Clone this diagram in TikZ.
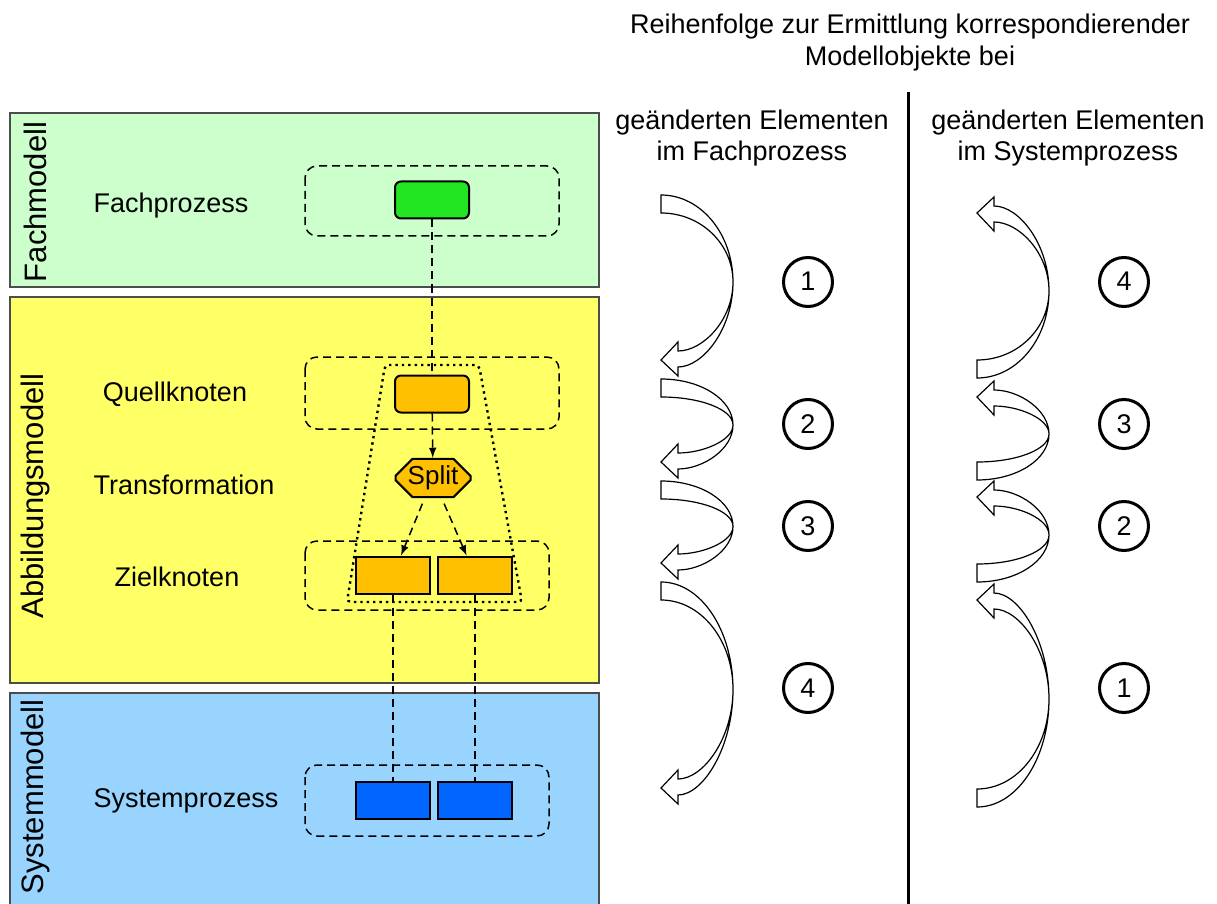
\documentclass[tikz,border=0pt]{standalone}
\usepackage{fontspec}
\setmainfont{Liberation Sans}
\usetikzlibrary{arrows,shapes.misc,positioning}

\definecolor{fachgruen}{RGB}{204,255,204}
\definecolor{abbgelb}{RGB}{255,255,102}
\definecolor{sysblau}{RGB}{153,212,255}
\definecolor{knotengruen}{RGB}{34,230,34}
\definecolor{knotenorange}{RGB}{255,192,0}
\definecolor{knotenblau}{RGB}{0,102,255}

\tikzset{
    ebene/.style={draw=black!70,line width=0.6pt},
    ebenentext/.style={rotate=90,font=\fontsize{15.5}{18}\selectfont},
    text14/.style={font=\fontsize{13.5}{15.5}\selectfont,align=center},
    gruppe/.style={draw,line width=0.75pt,dash pattern=on 4pt off 2.5pt,rounded corners=6pt},
    element/.style={draw,line width=1pt,minimum width=37pt,minimum height=18.5pt,inner sep=0pt},
    verbindung/.style={line width=0.75pt,dash pattern=on 4pt off 2.5pt},
    nummer/.style={circle,draw,line width=1.5pt,minimum size=24.5pt,inner sep=0pt,font=\fontsize{13.5}{15.5}\selectfont},
}

% Curved block arrow: x of tail/tip, tail y, tip y, direction (1 down, -1 up).
\newcommand{\bogenpfeil}[4]{%
    \pgfmathsetmacro{\ym}{((#2)+(#4)*9+(#3))/2}%
    \draw[line width=0.6pt,fill=white]
        (#1,#2) .. controls ({#1+40},#2) and ({#1+72},{\ym-0.55*(\ym-(#2))}) .. ({#1+72},\ym)
        .. controls ({#1+72},{\ym+0.55*((#3)+(#4)*7-\ym)}) and ({#1+42},{(#3)+(#4)*7}) .. ({#1+17},{(#3)+(#4)*7})
        -- ({#1+17},{(#3)+(#4)*16}) -- (#1,#3) -- ({#1+17},{(#3)-(#4)*18}) -- ({#1+17},{(#3)-(#4)*9})
        .. controls ({#1+42},{(#3)-(#4)*9}) and ({#1+72},{\ym+0.55*((#3)-(#4)*9-\ym)}) .. ({#1+72},\ym)
        .. controls ({#1+72},{\ym-0.55*(\ym-(#2)-(#4)*18)}) and ({#1+40},{(#2)+(#4)*18}) .. (#1,{(#2)+(#4)*18})
        -- cycle;
}

\begin{document}
\begin{tikzpicture}[x=0.5pt,y=-0.5pt]

    \useasboundingbox (0,0) rectangle (1217,904);
    \clip (0,0) rectangle (1217,904);

    % Model layers.
    \draw[ebene,fill=fachgruen] (10,113) rectangle (599,287);
    \draw[ebene,fill=abbgelb] (10,297) rectangle (599,683);
    \draw[ebene,fill=sysblau] (10,693) rectangle (599,920);

    \node[ebenentext] (tFach) at (35,202) {Fachmodell};
    \node[ebenentext] (tAbb) at (35,496) {Abbildungsmodell};
    \node[ebenentext] (tSys) at (35,797) {Systemmodell};

    % Row labels.
    \node[text14] (lFach) at (171,206) {Fachprozess};
    \node[text14] (lQuell) at (175,394) {Quellknoten};
    \node[text14] (lTrans) at (184,485) {Transformation};
    \node[text14] (lZiel) at (177,577) {Zielknoten};
    \node[text14] (lSys) at (186,801) {Systemprozess};

    % Groups.
    \foreach \ya/\yb/\xb in {166/236/559,357/429/559,541/610/549,765/836/549}
        \draw[gruppe] (305,\ya) rectangle (\xb,\yb);

    % Mapping frame.
    \draw[dotted,line width=1.2pt,rounded corners=2pt] (385,365) -- (479,365) -- (522,602) -- (347,602) -- cycle;

    % Elements.
    \node[element,fill=knotengruen,rounded corners=3pt] (fach) at (432,200) {};
    \node[element,fill=knotenorange,rounded corners=3pt] (quell) at (432,394) {};
    \node[element,fill=knotenorange,chamfered rectangle,chamfered rectangle xsep=5pt,
          minimum width=37.5pt,minimum height=19pt,font=\fontsize{13}{14}\selectfont] (split) at (433,478) {Split};
    \node[element,fill=knotenorange] (ziel1) at (393,575) {};
    \node[element,fill=knotenorange,right=3pt of ziel1] (ziel2) {};
    \node[element,fill=knotenblau] (sys1) at (393,800) {};
    \node[element,fill=knotenblau,right=3pt of sys1] (sys2) {};

    % Correspondences.
    \draw[verbindung] (fach) -- (quell);
    \draw[verbindung,-latex] (quell) -- (split);
    \draw[verbindung,-latex,shorten <=3pt] (split) -- (ziel1);
    \draw[verbindung,-latex,shorten <=3pt] (split) -- (ziel2);
    \draw[verbindung] (ziel1) -- (sys1);
    \draw[verbindung] (ziel2) -- (sys2);

    % Headings.
    \node[text14,font=\fontsize{13.5}{16}\selectfont] (titel) at (910,43) {Reihenfolge zur Ermittlung korrespondierender\\Modellobjekte bei};
    \node[text14] (kFach) at (752,138) {geänderten Elementen\\im Fachprozess};
    \node[text14] (kSys) at (1068,138) {geänderten Elementen\\im Systemprozess};

    % Separator.
    \coordinate (trennOben) at (908,92);
    \coordinate (trennUnten) at (908,904);
    \draw[line width=1.5pt] (trennOben) -- (trennUnten);

    % Order arrows.
    \foreach \a/\b in {195/360,379/462,481/563,582/788}
        {\bogenpfeil{661}{\a}{\b}{1}}
    \foreach \a/\b in {378/213,480/397,582/497,807/600}
        {\bogenpfeil{977}{\a}{\b}{-1}}

    % Order numbers.
    \foreach \y/\n in {282/1,424/2,526/3,688/4}
        \node[nummer,text depth=0pt,text height=9pt] (nf\n) at (808,\y) {\n};
    \foreach \y/\n in {282/4,424/3,526/2,688/1}
        \node[nummer,text depth=0pt,text height=9pt] (ns\n) at (1124,\y) {\n};

\end{tikzpicture}
\end{document}
